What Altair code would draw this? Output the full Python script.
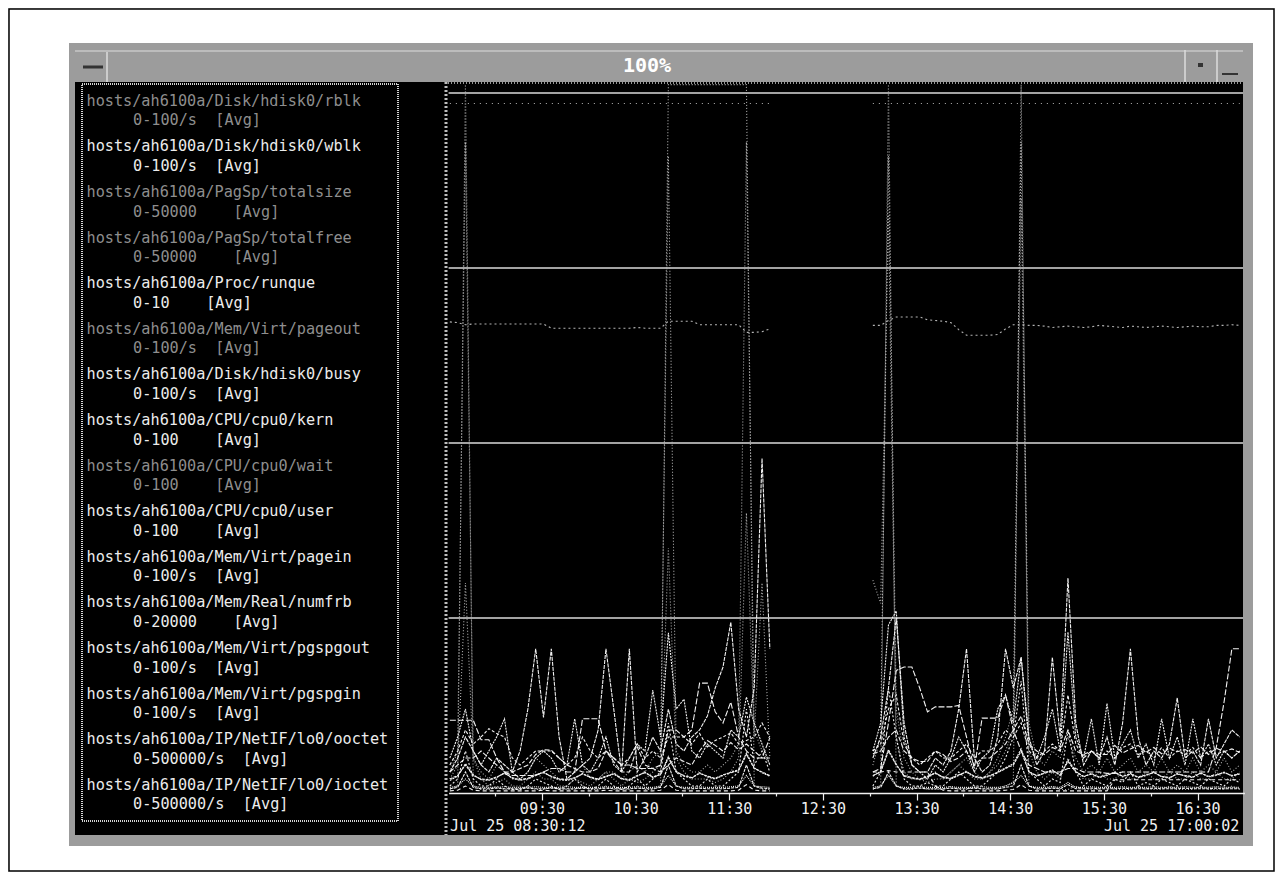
import altair as alt
import pandas as pd

# ---------------- data ----------------
NAMES = [
    "hosts/ah6100a/Disk/hdisk0/rblk",
    "hosts/ah6100a/Disk/hdisk0/wblk",
    "hosts/ah6100a/PagSp/totalsize",
    "hosts/ah6100a/PagSp/totalfree",
    "hosts/ah6100a/Proc/runque",
    "hosts/ah6100a/Mem/Virt/pageout",
    "hosts/ah6100a/Disk/hdisk0/busy",
    "hosts/ah6100a/CPU/cpu0/kern",
    "hosts/ah6100a/CPU/cpu0/wait",
    "hosts/ah6100a/CPU/cpu0/user",
    "hosts/ah6100a/Mem/Virt/pagein",
    "hosts/ah6100a/Mem/Real/numfrb",
    "hosts/ah6100a/Mem/Virt/pgspgout",
    "hosts/ah6100a/Mem/Virt/pgspgin",
    "hosts/ah6100a/IP/NetIF/lo0/ooctet",
    "hosts/ah6100a/IP/NetIF/lo0/ioctet",
]
NB = "\u00a0"
RANGES = [
    "0-100/s" + NB * 2 + "[Avg]",
    "0-100/s" + NB * 2 + "[Avg]",
    "0-50000" + NB * 4 + "[Avg]",
    "0-50000" + NB * 4 + "[Avg]",
    "0-10" + NB * 4 + "[Avg]",
    "0-100/s" + NB * 2 + "[Avg]",
    "0-100/s" + NB * 2 + "[Avg]",
    "0-100" + NB * 4 + "[Avg]",
    "0-100" + NB * 4 + "[Avg]",
    "0-100" + NB * 4 + "[Avg]",
    "0-100/s" + NB * 2 + "[Avg]",
    "0-20000" + NB * 4 + "[Avg]",
    "0-100/s" + NB * 2 + "[Avg]",
    "0-100/s" + NB * 2 + "[Avg]",
    "0-500000/s" + NB * 2 + "[Avg]",
    "0-500000/s" + NB * 2 + "[Avg]",
]

# sampling clock (minutes after midnight), 5-minute samples, two recorded runs
TIMES = list(range(511, 717, 5)) + list(range(782, 1018, 5))
SEGS = ["run1"] * 42 + ["run2"] * 48

# values in percent of each metric's range
RBLK = [0.5,1,101.2,1,0.5,0.5,1,0.5,0.5,0.5, 1,0.5,0.5,1,0.5,0.5,0.5,1,0.5,0.5,
        1,0.5,0.5,0.5,1,0.5,0.5,1,101.2,101.2, 101.2,101.2,101.2,101.2,101.2,101.2,101.2,101.2,101.2,1,
        0.5,0.5] + \
       [0.5,1,101.2,1,0.5,0.5,1,0.5,0.5,0.5, 1,0.5,0.5,1,0.5,0.5,0.5,1,1.5,101.2,
        1,0.5,0.5,1,0.5,0.5,1,0.5,0.5,0.5, 1,0.5,0.5,0.5,1,0.5,0.5,0.5,1,0.5,
        0.5,0.5,1,0.5,0.5,0.5,1,0.5]
PAGEOUT = [3,6,93,5,3,2,4,3,2,2, 3,5,4,3,2,2,3,4,2,2, 3,3,2,3,4,3,5,6,91,6,
           4,3,3,4,3,4,5,7,93,9, 6,4] + \
          [4,8,91,12,5,3,2,2,3,2, 3,4,5,3,2,3,5,8,12,93, 10,5,4,6,5,8,5,3,4,3,
           5,3,4,5,3,4,3,5,3,4, 3,5,3,4,3,5,3,4]
TOTALSIZE = [98.5,98.5,98.5,98.5,98.5,98.5,98.5,98.5,98.5,98.5,
             98.5,98.5,98.5,98.5,98.5,98.5,98.5,98.5,98.5,98.5,
             98.5,98.5,98.5,98.5,98.5,98.5,98.5,98.5,98.5,98.5,
             98.5,98.5,98.5,98.5,98.5,98.5,98.5,98.5,98.5,98.5,
             98.5,98.5] + \
            [98.5,98.5,98.5,98.5,98.5,98.5,98.5,98.5,98.5,98.5,
             98.5,98.5,98.5,98.5,98.5,98.5,98.5,98.5,98.5,98.5,
             98.5,98.5,98.5,98.5,98.5,98.5,98.5,98.5,98.5,98.5,
             98.5,98.5,98.5,98.5,98.5,98.5,98.5,98.5,98.5,98.5,
             98.5,98.5,98.5,98.5,98.5,98.5,98.5,98.5]
TOTALFREE = [67.3,67.2,66.9,67.0,67.0,67.0,67.0,67.0,67.0,67.0,
             67.0,67.0,67.0,66.4,66.4,66.4,66.4,66.4,66.4,66.4,
             66.4,66.4,66.4,66.4,66.5,66.4,66.4,66.4,67.4,67.4,
             67.4,67.4,66.9,66.9,66.9,66.9,66.9,66.9,65.8,65.8,
             65.9,66.3] + \
            [66.8,66.8,67.5,68.0,68.0,68.0,68.0,67.6,67.5,67.4,
             67.2,66.2,65.4,65.4,65.4,65.4,65.5,66.3,66.9,66.9,
             66.8,66.8,66.7,66.5,66.6,66.7,66.6,66.5,66.6,66.8,
             66.7,66.6,66.5,66.7,66.6,66.5,66.6,66.7,66.6,66.5,
             66.6,66.7,66.6,66.6,66.8,66.8,66.9,66.8]
RUNQUE = [3,4,5,5,6,5,4,3,3,3.5, 4,5.5,6.2,6.1,5,4,3.5,3,3,3.5, 6,4.5,3,3,6.6,4,3.5,3,4,5,
          4.5,4,6,7.5,6.8,6,7.2,6.2,7,6, 5,5] + \
         [5.6,6,8,9,6,5,4.5,4.5,6,5.5, 4.5,5,6,4,5,5,6,7,9,11, 7,6,5.5,6.5,6,9,6,5.5,6,5.5,
          5.5,6.8,5.7,6.3,6.8,5.8,6.5,5.6,6.4,5.9, 6.2,5.7,6.6,5.5,6.4,5.9,6.3,5.8]
WBLK = [0.6,0.8,3,0.8,0.6,0.6,0.7,0.6,0.6,0.6, 0.7,0.6,0.6,0.7,0.6,0.6,0.6,0.7,0.6,0.6,
        0.7,0.6,0.6,0.6,0.7,0.6,0.6,0.8,4,1, 0.6,0.6,0.7,0.6,0.6,0.6,0.7,0.8,4,1,
        0.7,0.6] + \
       [0.6,0.8,3,1,0.6,0.6,0.7,0.6,0.6,0.6, 0.7,0.6,0.6,0.7,0.6,0.6,0.6,0.8,1,4,
        1,0.6,0.6,0.7,0.6,1.2,0.6,0.6,0.7,0.6, 0.6,0.6,0.7,0.6,0.6,0.6,0.7,0.6,0.6,0.6,
        0.7,0.6,0.6,0.6,0.7,0.6,0.6,0.6]
BUSY = [5,8,12,6,4,6,8,10.6,3,2, 3,5,6,5,3,4,10.6,4,3,5, 8,4,3,5,7,6,14.7,8,22.9,12,
        13.4,6,5,7,6,5,9,8,13.7,10, 7,4] + \
       [6,10,24,26,8,4,3,2,4,3, 5,8,6,3,5,6,12,14,10,19.4, 7,5,8,12,6,23,8,5,10.6,4,
        12.8,5,7,9,5,7,4,10.6,5,8, 4,10.6,5,7,4,6,5,6]
KERN = [4,6,9,7,8,9.2,8.5,8,5,4, 5,6,6,6,5,4,5,8,6,5, 6,5,4,5,7,5,6,5,8,8,
        8,7,8.5,6.6,7.5,8,8.6,7,7.5,8, 10,8] + \
       [6,7,12,14,7,5,4,5,6,5, 5,6,7,5,6,6,7,9,8,10, 6,5,6,7,6,14,7,5,6,5,
        6,5,6.5,7,5.5,6,5,6.5,5,6, 5.5,6.5,5,6,5.5,6,5,6]
WAIT = [2,4,30,5,2,1,1.5,2,1,1, 2,3,2,2,1,1,2,1.5,1,2, 3,2,1,2,1.5,2,3,4,35,5,
        3,2,2,2,1.5,2,3,5,40,8, 30,5] + \
       [30.4,27.1,82.6,8,3,2,2,1.5,2,2, 3,4,3,2,2,3,4,6,9,85, 6,3,2,3,2,5,3,2,2,3,
        2,2,3,2,2,3,2,2,3,2, 2,3,2,2,3,2,2,3]
USER = [3,5,8,6,4,3,5,4,3,6, 12,20.6,10.8,20.6,8,2,3,4,5,9, 20.6,12,3,20.6,3,5,8,6,12,7,
        6,8,9,11,15,18,24.4,12,8,15, 47.8,20.6] + \
       [5,8,15,25,10,4,3,3,5,4, 6,12,20.6,5,3,4,8,20.6,15,19.4, 8,4,6,19.4,8,30.7,10,4,6,5,
        8,4,10,20.6,8,4,6,5,7,13.6, 5,6,4,10.6,5,7,9,8]
PAGEIN = [1,2,6,2,1,1,2,1,0.5,0.5, 1,2,1.5,1,0.5,1,2,1,0.5,1, 2,1,0.5,1,2,1,2,3,10,3,
          2,1,1,2,1,1,2,3,12,4, 6,3] + \
         [1,3,15,8,2,1,1,1.5,1,1, 2,3,2,1,1,2,3,5,8,16, 3,2,1,2,1.5,9,3,1,2,1.5,
          1,2,1.5,3,1,1.5,1,2,1.5,1, 2,1.5,1,2,1.5,1,2,1.5]
NUMFRB = [10.4,10.4,10.4,10.4,7.6,7.6,5,3,2.5,2.5, 2.5,2.5,3,3.5,3.5,3,3,10.6,10.6,10.6,
          6,5,4,4,3.5,3.5,3.5,4,9,9, 8,9,15.7,15.7,11.6,10,13,8,6,5, 5,7.9] + \
         [3,3.5,10,17.5,18,18,15,11.6,12.3,12.3, 12.3,12.5,8,3.5,10.7,10.7,10.7,14,9,6,
          4,3.5,3,3,3,3.5,3.5,3,3,3, 2.8,2.8,3,3,3,3,3,3,3,3, 3,3,3,3,6.5,13,20.6,20.6]
PGSPGOUT = [0.3,0.4,1,0.4,0.3,0.3,0.3,0.3,0.3,0.3, 0.3,0.3,0.4,0.3,0.3,0.3,0.3,0.3,0.3,0.3,
            0.4,0.3,0.3,0.3,0.3,0.3,0.3,0.4,1.2,0.4, 0.3,0.3,0.3,0.3,0.3,0.3,0.3,0.4,1.2,0.4,
            0.3,0.3] + \
           [3,3,3.2,3,3,3,3,3,1,0.4, 0.3,0.3,0.3,0.3,0.3,0.3,0.3,0.4,0.5,1.2,
            0.4,0.3,0.3,0.3,0.3,0.3,0.3,0.3,0.3,0.3, 0.3,1.9,1.9,1.9,1.9,1.9,1.9,1.9,1.9,1.9,
            1.9,1.9,1.9,1.9,1.9,1.9,1.9,1.9]
PGSPGIN = [0.8,1,2,1,0.8,0.8,0.8,0.9,0.8,0.8, 0.8,0.9,0.8,0.8,0.8,0.9,0.8,0.8,0.8,0.8,
           0.9,0.8,0.8,0.8,0.9,0.8,0.8,1,2.5,1, 0.8,0.8,0.9,0.8,0.8,0.8,0.9,1,2.5,1,
           0.9,0.8] + \
          [0.8,1,2.5,1,0.8,0.8,0.9,0.8,0.8,0.8, 0.9,0.8,0.8,0.8,0.9,0.8,0.8,1,1.5,2.5,
           1,0.8,0.8,0.9,0.8,1.5,0.8,0.8,0.9,0.8, 0.8,0.8,0.9,0.8,0.8,0.8,0.9,0.8,0.8,0.8,
           0.9,0.8,0.8,0.8,0.9,0.8,0.8,0.8]
OOCTET = [2,2.5,4,2.5,2,1.9,2.3,2.8,2.2,1.9, 2.1,2.6,2.9,2.4,2,1.9,2.2,2.7,2.3,2,
          2.4,2.8,2.1,1.9,2.5,2.9,2.3,2.6,5,3, 2.5,2.2,2.8,2.4,2.1,2.6,2.9,3.2,5.5,3.5,
          3,2.5] + \
         [2.5,3,6,4,2.5,2.2,2,2.4,2.8,2.3, 2.1,2.6,3,2.4,2.2,2.5,2.9,3.5,4,6,
          3,2.5,2.8,3.2,2.6,4.5,3,2.4,2.7,2.3, 2.6,2.9,2.4,2.7,2.3,2.6,2.9,2.4,2.2,2.7,
          2.5,2.3,2.8,2.4,2.6,2.9,2.5,2.7]
IOCTET = [1.8,2.4,4.2,2.6,1.9,1.8,2.2,2.9,2.1,1.8, 2.0,2.5,3.0,2.3,1.9,1.8,2.1,2.8,2.2,1.9,
          2.3,2.7,2.0,1.8,2.4,3.0,2.2,2.7,5.2,3.1, 2.4,2.1,2.9,2.3,2.0,2.5,3.0,3.3,5.7,3.6,
          2.9,2.4] + \
         [2.4,3.1,6.2,4.1,2.4,2.1,1.9,2.3,2.9,2.2, 2.0,2.5,3.1,2.3,2.1,2.4,3.0,3.6,4.2,6.3,
          3.1,2.4,2.9,3.3,2.5,4.7,3.1,2.3,2.8,2.2, 2.5,3.0,2.3,2.8,2.2,2.5,3.0,2.3,2.1,2.8,
          2.4,2.2,2.9,2.3,2.5,3.0,2.4,2.8]

SERIES = [RBLK, WBLK, TOTALSIZE, TOTALFREE, RUNQUE, PAGEOUT, BUSY, KERN,
          WAIT, USER, PAGEIN, NUMFRB, PGSPGOUT, PGSPGIN, OOCTET, IOCTET]

GRID_LEVELS = [25, 50, 75, 100]
TICK_MINUTES = [540, 570, 600, 630, 660, 690, 720, 750, 780, 810, 840, 870, 900, 930, 960, 990]
TICK_LABELS = ["", "09:30", "", "10:30", "", "11:30", "", "12:30", "", "13:30",
               "", "14:30", "", "15:30", "", "16:30"]
START_MIN, END_MIN = 510.2, 1020.03
DATE_LABELS = ["Jul 25 08:30:12", "Jul 25 17:00:02"]
TITLE = "100%"

# ---------------- styles ----------------
DIM_TXT, BRIGHT_TXT = "#8e8e8e", "#ececec"
LEGEND_COLORS = [DIM_TXT, BRIGHT_TXT, DIM_TXT, DIM_TXT, BRIGHT_TXT, DIM_TXT, BRIGHT_TXT, BRIGHT_TXT,
                 DIM_TXT, BRIGHT_TXT, BRIGHT_TXT, BRIGHT_TXT, BRIGHT_TXT, BRIGHT_TXT, BRIGHT_TXT, BRIGHT_TXT]
LINE_COLORS = ["#b4b4b4" if c == DIM_TXT else "#f2f2f2" for c in LEGEND_COLORS]
DASHES = [[1, 2], [3, 1], [1, 5], [2, 3], [5, 2], [1, 2], [2, 1], [3, 2],
          [1, 2], [4, 1], [2, 2], [6, 2], [4, 3], [1, 1], [3, 1], [2, 1]]
MONO = "DejaVu Sans Mono"
HATCH = "#9c9c9c"

rows = []
for name, vals in zip(NAMES, SERIES):
    for t, s, v in zip(TIMES, SEGS, vals):
        rows.append({"series": name, "minute": t, "seg": s, "pct": v})
df = pd.DataFrame(rows)

x_scale = alt.Scale(domain=[START_MIN, END_MIN], range=[440.6, 1236.4], zero=False, nice=False)
y_scale = alt.Scale(domain=[0, 100], range=[785, 85], zero=False, nice=False)
one = pd.DataFrame({"a": [0]})


def box(x, x2, y, y2, **kw):
    return alt.Chart(one).mark_rect(**kw).encode(
        x=alt.value(x), x2=alt.value(x2), y=alt.value(y), y2=alt.value(y2))


def seg_line(x, x2, y, y2, **kw):
    return alt.Chart(one).mark_rule(**kw).encode(
        x=alt.value(x), x2=alt.value(x2), y=alt.value(y), y2=alt.value(y2))


frame = box(1, 1266, 1, 863, fill="white", stroke="black", strokeWidth=1.5)
window = box(61, 1245, 35, 838, color=HATCH)
inner = box(67, 1235, 74, 827, color="black")
tb_line = seg_line(67, 1235, 43, 43, color="#dcdcdc", strokeWidth=1)
tb_v1 = seg_line(99, 99, 44, 74, color="#dcdcdc", strokeWidth=1.5)
tb_dash = seg_line(75, 95, 59, 59, color="#333333", strokeWidth=3)
tb_v2 = seg_line(1177, 1177, 42, 74, color="#dcdcdc", strokeWidth=1.5)
tb_v3 = seg_line(1209, 1209, 42, 74, color="#dcdcdc", strokeWidth=1.5)
tb_dot = box(1190, 1195, 55, 59, color="#333333")
tb_under = seg_line(1214, 1230, 66, 66, color="#333333", strokeWidth=2)

title = alt.Chart(pd.DataFrame({"t": [TITLE]})).mark_text(
    font=MONO, fontSize=20, fontWeight="bold", color="white", align="center", baseline="middle"
).encode(x=alt.value(639), y=alt.value(58), text="t:N")

legend_box = box(74, 390, 76, 813, fillOpacity=0, stroke="#d4d4d4", strokeWidth=2, strokeDash=[1, 1])

leg = pd.DataFrame({"idx": list(range(len(NAMES))), "name": NAMES, "rng": RANGES})
leg_y = alt.Scale(domain=[0, len(NAMES) - 1], range=[92.7, 776.7], zero=False, nice=False)
leg_color = alt.Color("name:N", scale=alt.Scale(domain=NAMES, range=LEGEND_COLORS), legend=None)
leg_names = alt.Chart(leg).mark_text(font=MONO, fontSize=15.2, align="left", baseline="middle").encode(
    x=alt.value(78.5), y=alt.Y("idx:Q", scale=leg_y, axis=None), text="name:N", color=leg_color)
leg_ranges = alt.Chart(leg).mark_text(font=MONO, fontSize=15.2, align="left", baseline="middle", dy=19.7).encode(
    x=alt.value(125), y=alt.Y("idx:Q", scale=leg_y, axis=None), text="rng:N", color=leg_color)

zigzag = seg_line(438, 438, 74, 827, color="#bdbdbd", strokeWidth=3, strokeDash=[2, 2])
top_dots = seg_line(440, 1235, 75, 75, color="#c8c8c8", strokeWidth=1.5, strokeDash=[1, 2])

grid = alt.Chart(pd.DataFrame({"level": GRID_LEVELS})).mark_rule(color="#dadada", strokeWidth=1.6).encode(
    y=alt.Y("level:Q", scale=y_scale, axis=None),
    x=alt.X(datum=START_MIN, type="quantitative", scale=x_scale),
    x2=alt.X2(datum=END_MIN))

label_expr = " : ".join(f"datum.value == {m} ? '{l}'" for m, l in zip(TICK_MINUTES, TICK_LABELS) if l) + " : ''"

lines = alt.Chart(df).mark_line(strokeWidth=1.1).encode(
    x=alt.X("minute:Q", scale=x_scale,
            axis=alt.Axis(values=TICK_MINUTES, labelExpr=label_expr, title=None, grid=False,
                          offset=-79, zindex=1, domainColor="#f0f0f0", domainWidth=1.6,
                          tickColor="#f0f0f0", tickWidth=1.2,
                          tickSize={"condition": {"test": "datum.value % 60 == 30", "value": 7}, "value": 3},
                          labelColor="#f0f0f0", labelFont=MONO, labelFontSize=15, labelPadding=1,
                          labelFlush=False, labelOverlap=False, labelAngle=0)),
    y=alt.Y("pct:Q", scale=y_scale, axis=None),
    detail="seg:N",
    color=alt.Color("series:N", scale=alt.Scale(domain=NAMES, range=LINE_COLORS), legend=None),
    strokeDash=alt.StrokeDash("series:N", scale=alt.Scale(domain=NAMES, range=DASHES), legend=None),
)

dates = pd.DataFrame({"minute": [START_MIN, END_MIN], "label": DATE_LABELS})
date_left = alt.Chart(dates.iloc[[0]]).mark_text(
    font=MONO, fontSize=15, color="#f0f0f0", align="left", baseline="middle", dx=1.5
).encode(x=alt.X("minute:Q", scale=x_scale), y=alt.value(818), text="label:N")
date_right = alt.Chart(dates.iloc[[1]]).mark_text(
    font=MONO, fontSize=15, color="#f0f0f0", align="right", baseline="middle", dx=-5
).encode(x=alt.X("minute:Q", scale=x_scale), y=alt.value(818), text="label:N")

right_strip = box(1235, 1245, 74, 838, color=HATCH)

chart = alt.layer(
    frame, window, inner, tb_line, tb_v1, tb_dash, tb_v2, tb_v3, tb_dot, tb_under, title,
    legend_box, leg_names, leg_ranges, zigzag, top_dots, grid, lines, date_left, date_right, right_strip
).resolve_scale(y="independent", color="independent").properties(
    width=1267, height=864, padding=0, autosize=alt.AutoSizeParams(type="none")
).configure_view(stroke="transparent").configure(background="white")

chart.save("out.html", embed_options={"renderer": "svg", "actions": False})
